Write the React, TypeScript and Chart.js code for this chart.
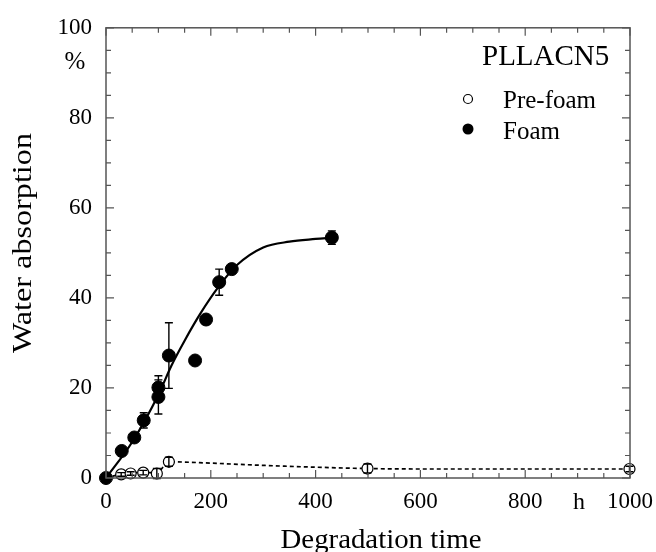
import React, { useEffect, useRef } from 'react';
import { Chart, registerables } from 'chart.js';

Chart.register(...registerables);

// ---- data ----
const foamTime = [0, 30, 54, 72, 100, 100, 120, 170, 191, 216, 240, 431];
const foamAbs = [0, 6.0, 9.0, 12.8, 18.0, 20.1, 27.2, 26.1, 35.2, 43.5, 46.4, 53.4];
const foamErr = [0, 0.5, 0.6, 1.7, 3.8, 2.6, 7.3, 0, 0, 2.9, 0, 1.5];

const preTime = [29, 47, 71, 97, 120, 499, 999];
const preAbs = [0.8, 1.0, 1.2, 1.0, 3.6, 2.1, 2.0];
const preErr = [0.4, 0.4, 0.5, 1.1, 1.0, 1.0, 0.6];

const foamFitTime = [0, 50, 100, 125, 150, 180, 215, 250, 300, 350, 400, 431];
const foamFitAbs = [0, 8, 18.5, 25, 30.5, 36.5, 42.5, 47.3, 51.2, 52.5, 53.1, 53.4];

const preFitTime = [0, 30, 60, 97, 120, 200, 300, 400, 500, 600, 800, 1000];
const preFitAbs = [0, 0.9, 1.2, 1.2, 3.6, 3.3, 2.8, 2.4, 2.1, 2.0, 2.0, 2.0];

const xTicks = [0, 200, 400, 600, 800, 1000];
const yTicks = [0, 20, 40, 60, 80, 100];

const seriesLabels = ['Pre-foam', 'Foam'];
const sampleName = 'PLLACN5';
const xTitle = 'Degradation time';
const yTitle = 'Water absorption';
const xUnit = 'h';
const yUnit = '%';

const FONT = "'Liberation Serif', 'Times New Roman', serif";
const AXIS = '#555';

const pts = (xs: number[], ys: number[]) => xs.map((x, i) => ({ x, y: ys[i] }));

const fitText = (ctx: any, text: string, cx: number, by: number, target: number) => {
  const w = ctx.measureText(text).width;
  const k = target / w;
  ctx.save();
  ctx.translate(cx, by);
  ctx.scale(k, 1);
  ctx.textAlign = 'center';
  ctx.fillText(text, 0, 0);
  ctx.restore();
};

const decor = {
  id: 'decor',
  afterDatasetsDraw(chart: any) {
    const { ctx, scales } = chart;
    const { x, y } = scales;
    ctx.save();
    ctx.strokeStyle = '#000';
    ctx.lineWidth = 1.4;
    const bars = (xs: number[], ys: number[], es: number[]) => {
      xs.forEach((t, i) => {
        const e = es[i];
        if (!e) return;
        const px = x.getPixelForValue(t);
        const p1 = y.getPixelForValue(ys[i] - e);
        const p2 = y.getPixelForValue(ys[i] + e);
        ctx.beginPath();
        ctx.moveTo(px, p1); ctx.lineTo(px, p2);
        ctx.moveTo(px - 4, p1); ctx.lineTo(px + 4, p1);
        ctx.moveTo(px - 4, p2); ctx.lineTo(px + 4, p2);
        ctx.stroke();
      });
    };
    bars(foamTime, foamAbs, foamErr);
    bars(preTime, preAbs, preErr);
    ctx.restore();
  },
  afterDraw(chart: any) {
    const { ctx, chartArea: a, scales } = chart;
    const { x, y } = scales;
    ctx.save();
    // frame
    ctx.strokeStyle = AXIS;
    ctx.lineWidth = 1.5;
    ctx.strokeRect(a.left, a.top, a.right - a.left, a.bottom - a.top);
    // tick marks (inward)
    ctx.lineWidth = 1.2;
    ctx.beginPath();
    for (let v = x.min; v <= x.max; v += 50) {
      const len = v % 200 === 0 ? 8 : 5;
      const px = x.getPixelForValue(v);
      ctx.moveTo(px, a.bottom); ctx.lineTo(px, a.bottom - len);
      ctx.moveTo(px, a.top); ctx.lineTo(px, a.top + len);
    }
    for (let v = y.min; v <= y.max; v += 5) {
      const len = v % 20 === 0 ? 8 : 5;
      const py = y.getPixelForValue(v);
      ctx.moveTo(a.left, py); ctx.lineTo(a.left + len, py);
      ctx.moveTo(a.right, py); ctx.lineTo(a.right - len, py);
    }
    ctx.stroke();

    ctx.fillStyle = '#000';
    // units
    ctx.font = `25px ${FONT}`;
    ctx.textAlign = 'center';
    ctx.textBaseline = 'alphabetic';
    ctx.fillText(yUnit, 75, 69);
    ctx.font = `24px ${FONT}`;
    ctx.fillText(xUnit, 579, 509);

    // axis titles
    ctx.font = `28px ${FONT}`;
    fitText(ctx, xTitle, 381, 548, 201);
    ctx.save();
    ctx.translate(31, 243);
    ctx.rotate(-Math.PI / 2);
    fitText(ctx, yTitle, 0, 0, 220);
    ctx.restore();

    // legend
    ctx.textAlign = 'left';
    ctx.font = `29px ${FONT}`;
    ctx.fillText(sampleName, 482, 65);
    ctx.font = `25px ${FONT}`;
    ctx.fillText(seriesLabels[0], 503, 108);
    ctx.fillText(seriesLabels[1], 503, 139);
    ctx.lineWidth = 1.2;
    ctx.strokeStyle = '#000';
    ctx.beginPath();
    ctx.arc(468, 99, 4.5, 0, Math.PI * 2);
    ctx.fillStyle = '#fff';
    ctx.fill();
    ctx.stroke();
    ctx.beginPath();
    ctx.arc(468, 129, 5.5, 0, Math.PI * 2);
    ctx.fillStyle = '#000';
    ctx.fill();
    ctx.restore();
  },
};

export default function App() {
  const ref = useRef<HTMLCanvasElement | null>(null);
  useEffect(() => {
    if (!ref.current) return;
    const chart = new Chart(ref.current, {
      type: 'scatter',
      data: {
        datasets: [
          {
            label: seriesLabels[1],
            data: pts(foamTime, foamAbs),
            pointRadius: 6.5,
            pointBackgroundColor: '#000',
            pointBorderColor: '#000',
            pointBorderWidth: 1,
            showLine: false,
            clip: false,
            order: 0,
          },
          {
            label: seriesLabels[0],
            data: pts(preTime, preAbs),
            pointRadius: 5.5,
            pointBackgroundColor: '#fff',
            pointBorderColor: '#000',
            pointBorderWidth: 1.2,
            showLine: false,
            clip: false,
            order: 0,
          },
          {
            label: 'Foam fit',
            data: pts(foamFitTime, foamFitAbs),
            showLine: true,
            pointRadius: 0,
            borderColor: '#000',
            borderWidth: 2.2,
            cubicInterpolationMode: 'monotone',
            clip: false,
            order: 2,
          },
          {
            label: 'Pre-foam fit',
            data: pts(preFitTime, preFitAbs),
            showLine: true,
            pointRadius: 0,
            borderColor: '#000',
            borderWidth: 1.7,
            borderDash: [4, 3],
            cubicInterpolationMode: 'monotone',
            clip: false,
            order: 2,
          },
        ] as any,
      },
      options: {
        animation: false,
        responsive: false,
        layout: { padding: { top: 25, right: 26, left: 0, bottom: 0 } },
        plugins: { legend: { display: false }, tooltip: { enabled: false } },
        scales: {
          x: {
            type: 'linear',
            min: 0,
            max: 1000,
            grid: { display: false, drawTicks: false },
            border: { display: false },
            afterFit: (s: any) => { s.height = 74; s.paddingRight = 0; s.paddingLeft = 0; },
            afterBuildTicks: (s: any) => { s.ticks = xTicks.map((v) => ({ value: v })); },
            ticks: {
              padding: 10,
              color: '#000',
              font: { family: FONT, size: 23 },
              callback: (v: any) => String(v),
            },
          },
          y: {
            type: 'linear',
            min: 0,
            max: 100,
            grid: { display: false, drawTicks: false },
            border: { display: false },
            afterFit: (s: any) => { s.width = 106; },
            afterBuildTicks: (s: any) => { s.ticks = yTicks.map((v) => ({ value: v })); },
            ticks: {
              padding: 14,
              color: '#000',
              font: { family: FONT, size: 23 },
              callback: (v: any) => String(v),
            },
          },
        },
      },
      plugins: [decor],
    });
    return () => chart.destroy();
  }, []);
  return (
    <div style={{ position: 'absolute', left: 0, top: 0, width: 656, height: 552, background: '#fff' }}>
      <canvas ref={ref} width={656} height={552} />
    </div>
  );
}
